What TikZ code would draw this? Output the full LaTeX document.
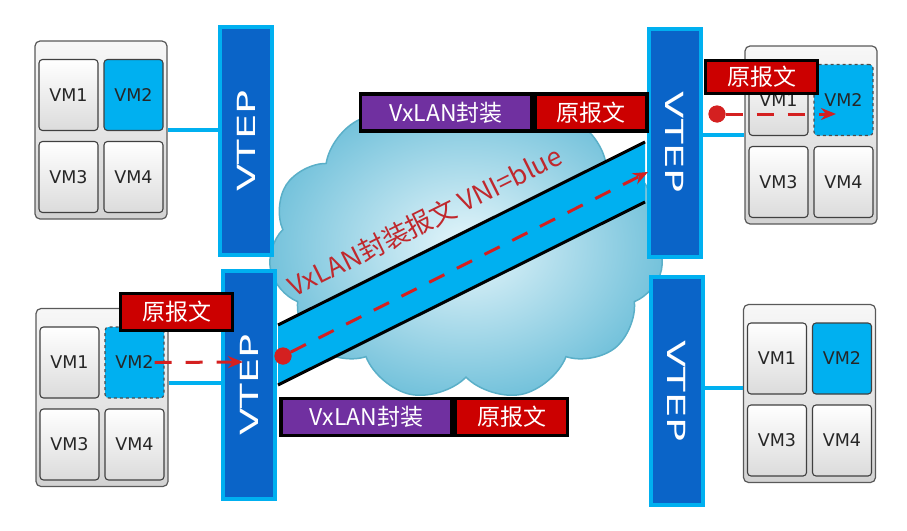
\documentclass[tikz,border=0pt]{standalone}
\usepackage{fontspec}
\setmainfont{Noto Sans CJK SC}
\newfontfamily\vmfont{DejaVu Sans}
\usepackage{graphicx}
\usepackage{tikz}
\usetikzlibrary{arrows.meta}
\usetikzlibrary{shapes.symbols}
\usetikzlibrary{calc}

\definecolor{vtepblue}{HTML}{0A64C8}
\definecolor{skyblue}{HTML}{00B0F0}
\definecolor{pktred}{HTML}{CC0000}
\definecolor{encpurple}{HTML}{7030A0}
\definecolor{arrowred}{HTML}{D42020}
\definecolor{textred}{HTML}{C0282D}
\definecolor{cloudin}{HTML}{E6F6FB}
\definecolor{cloudout}{HTML}{74C2DB}
\definecolor{cloudline}{HTML}{5AAFC8}

\tikzset{
  host/.style={draw=black!65, line width=1.2pt, rounded corners=5pt,
    top color=gray!6, bottom color=gray!35, minimum width=132pt, minimum height=178pt},
  vm/.style={draw=black!75, line width=1.1pt, rounded corners=3.5pt,
    minimum width=59pt, minimum height=71pt, inner sep=0pt,
    font=\vmfont\fontsize{17.5}{17.5}\selectfont, text=black!85},
  vmoff/.style={vm, top color=white, bottom color=gray!28},
  vmon/.style={vm, fill=skyblue},
  vmsent/.style={vmon, dashed, draw=black!70},
  vtep/.style={draw=skyblue, fill=vtepblue, line width=4pt, minimum width=52pt,
    minimum height=228pt, inner sep=0pt, text=white, font=\vmfont\fontsize{25}{25}\selectfont},
  link/.style={draw=skyblue, line width=4pt},
  pkt/.style={fill=pktred, draw=black, line width=3.5pt, text=white, inner sep=0pt,
    minimum width=112pt, minimum height=37pt, font=\fontsize{23}{23}\selectfont},
  encap/.style={pkt, fill=encpurple, minimum width=171pt},
  flow/.style={draw=arrowred, line width=3pt, dash pattern=on 17pt off 14pt,
    -{Stealth[length=15pt,width=12pt]}},
  hub/.style={circle, fill=arrowred, minimum size=17pt, inner sep=0pt}
}

% host box with four VMs, #4 is the style of VM2
\newcommand{\vmhost}[4]{%
  \node[host] (#1) at (#2,#3) {};
  \node[vmoff] (#1vm1) at ($(#1)+(-32.5,-35)$) {VM1};
  \node[#4] (#1vm2) at ($(#1)+(32.5,-35)$) {VM2};
  \node[vmoff] (#1vm3) at ($(#1)+(-32.5,47)$) {VM3};
  \node[vmoff] (#1vm4) at ($(#1)+(32.5,47)$) {VM4};
}

\begin{document}
\begin{tikzpicture}[x=1pt, y=-1pt]
\useasboundingbox (0,0) rectangle (907,530);

\node[cloud, cloud puffs=11, cloud puff arc=115, aspect=1.3, minimum width=395pt,
  minimum height=305pt, draw=cloudline, line width=1.5pt, inner color=cloudin,
  outer color=cloudout] (cloud) at (466,248) {};

\vmhost{hostA}{101}{130}{vmon}
\vmhost{hostB}{102}{397.5}{vmsent}
\vmhost{hostC}{811}{135}{vmsent}
\vmhost{hostD}{809.5}{393.5}{vmon}

\node[vtep] (vtepA) at (246,141) {\rotatebox{90}{\scalebox{1.6}[1]{VTEP}}};
\node[vtep] (vtepB) at (249,385) {\rotatebox{90}{\scalebox{1.6}[1]{VTEP}}};
\node[vtep] (vtepC) at (675,142.5) {\rotatebox{-90}{\scalebox{1.6}[1]{VTEP}}};
\node[vtep] (vtepD) at (676.5,391) {\rotatebox{-90}{\scalebox{1.6}[1]{VTEP}}};

\draw[link] (hostA.east) -- (hostA.east -| vtepA.west);
\draw[link] ([yshift=14.5pt]hostB.east) coordinate (lkB) -- (lkB -| vtepB.west);
\draw[link] (hostC.west) -- (hostC.west -| vtepC.east);
\draw[link] ([yshift=5.5pt]hostD.west) coordinate (lkD) -- (lkD -| vtepD.east);

% tunnel
\fill[skyblue] (278,325) -- (645,142) -- (645,202) -- (278,385) -- cycle;
\draw[line width=3pt] (278,325) -- (645,142);
\draw[line width=3pt] (278,385) -- (645,202);
\node[text=textred, rotate=26.5, font=\fontsize{26.5}{26.5}\selectfont] (tunlbl)
  at (425,221) {VxLAN封装报文 VNI=blue};

\node[encap] (encA) at (446,112.5) {VxLAN封装};
\node[pkt, anchor=west] (payA) at (encA.east) {原报文};
\node[encap] (encB) at (366.5,417) {VxLAN封装};
\node[pkt, anchor=west] (payB) at (encB.east) {原报文};

\node[pkt] (lblB) at (176.5,312) {原报文};
\node[pkt, minimum height=33pt] (lblC) at (761.5,77) {原报文};

\coordinate (tipB) at (243,362);
\coordinate (tipT) at (648,172);
\coordinate (tipC) at (836,114);
\node[hub] (dotB) at (283,356) {};
\node[hub] (dotC) at (717,114) {};

\draw[flow] ([xshift=-10pt]hostBvm2.east) -- (tipB);
\draw[flow] (dotB) -- (tipT);
\draw[flow] (dotC) -- (tipC);
\node[hub] at (dotB) {};
\node[hub] at (dotC) {};
\end{tikzpicture}
\end{document}
